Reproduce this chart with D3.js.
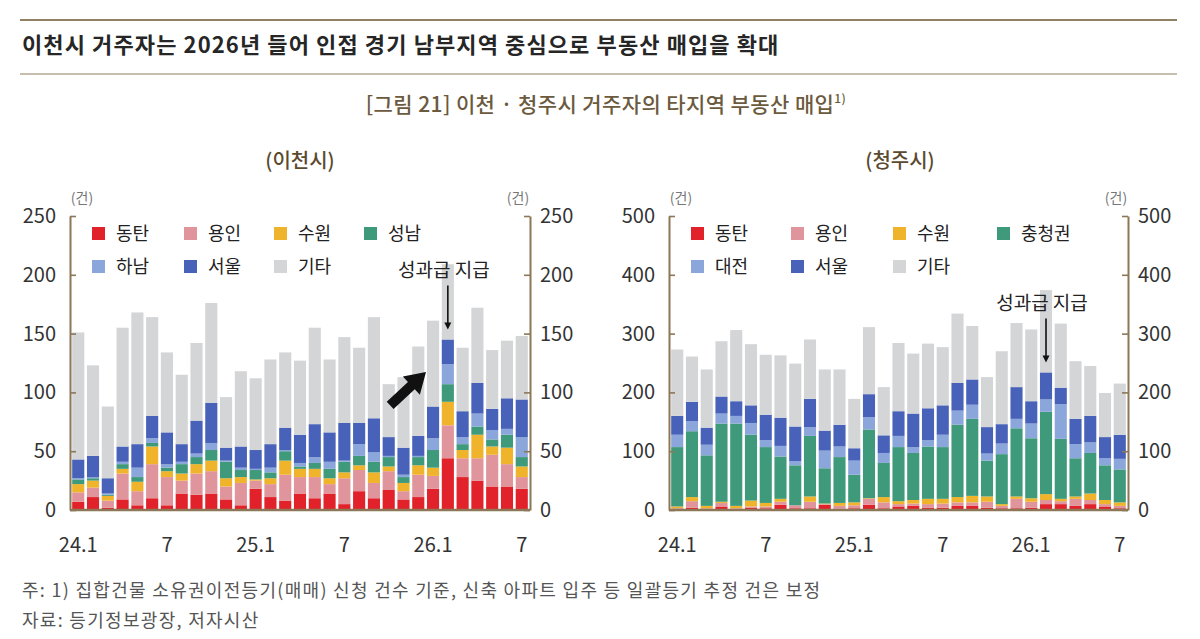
<!DOCTYPE html>
<html>
<head>
<meta charset="utf-8">
<script src="https://cdn.jsdelivr.net/npm/d3@7"></script>
<style>
  body { margin: 0; background: #fff; }
  text { font-family: "Noto Sans CJK KR", "Noto Sans", sans-serif; }
</style>
</head>
<body>
<svg id="chart" width="1200" height="639"></svg>
<script>
// months 2024.1 ~ 2026.7
var months = ["24.1","24.2","24.3","24.4","24.5","24.6","24.7","24.8","24.9","24.10","24.11","24.12",
              "25.1","25.2","25.3","25.4","25.5","25.6","25.7","25.8","25.9","25.10","25.11","25.12",
              "26.1","26.2","26.3","26.4","26.5","26.6","26.7"];
var monthTicks = ["24.1","24.7","25.1","25.7","26.1","26.7"];

// 이천시 거주자 (건)
var icheonKeys = ["동탄","용인","수원","성남","하남","서울","기타"];
var icheonDongtan = [7,11,2,9,4,10,4,14,13,14,9,4,18,11,8,14,10,14,5,16,10,17,9,11,18,44,28,25,20,20,18];
var icheonYongin  = [8,8,6,22,12,29,24,11,18,19,11,19,7,11,22,14,18,8,22,18,13,16,7,19,11,28,16,19,27,19,10];
var icheonSuwon   = [7,6,4,4,8,15,5,6,8,9,7,5,1,5,12,7,7,5,5,4,9,4,7,8,7,20,7,20,7,14,9];
var icheonSeongnam= [4,2,1,4,4,3,3,8,6,9,14,6,8,5,8,2,5,8,9,8,9,8,5,7,15,15,5,7,6,11,8];
var icheonHanam   = [1,1,1,2,8,4,3,2,3,6,1,2,1,4,1,3,5,6,1,10,8,1,2,1,10,17,6,11,8,5,17];
var icheonSeoul   = [16,18,13,13,20,19,27,15,28,34,11,18,16,20,19,24,28,25,32,18,29,16,23,17,27,21,22,26,18,26,32];
var icheonEtc     = [108,77,61,101,112,84,68,59,66,85,43,64,61,72,64,63,82,62,73,64,86,45,60,76,73,64,54,64,50,49,54];
var icheonTicks = [0,50,100,150,200,250];

// 청주시 거주자 (건)
var cheongjuKeys = ["동탄","용인","수원","충청권","대전","서울","기타"];
var cheongjuDongtan = [1,4,1,6,2,4,3,9,3,3,9,2,3,9,3,6,7,4,4,7,7,4,3,3,4,10,10,7,10,6,3];
var cheongjuYongin  = [2,11,2,6,1,2,3,5,5,11,1,5,5,10,10,4,4,6,7,6,6,10,4,16,10,7,5,12,7,4,4];
var cheongjuSuwon   = [3,7,4,2,4,10,6,5,0,9,1,5,5,1,9,5,6,9,8,9,11,9,3,4,6,10,4,4,11,7,6];
var cheongjuChung   = [101,112,86,133,140,112,95,72,68,103,60,78,47,117,58,92,80,89,88,123,131,61,85,116,102,140,102,65,69,59,56];
var cheongjuDaejeon = [21,17,18,17,13,20,12,18,7,15,30,18,24,21,17,19,10,11,21,24,24,12,18,16,25,21,59,24,18,12,18];
var cheongjuSeoul   = [32,33,29,29,25,30,43,48,59,48,34,37,21,39,30,42,57,54,50,47,43,45,33,54,38,46,28,43,45,36,41];
var cheongjuEtc     = [113,77,99,94,121,104,102,106,107,101,104,94,84,114,82,116,102,110,99,118,91,85,124,109,122,140,109,98,85,75,87];
var cheongjuTicks = [0,100,200,300,400,500];

var colors = ["#e2222b","#e0959c","#efb42b","#3f9a7b","#8ba6da","#4862b9","#d4d5d7"];
var brown = "#8c7757";
var BASE = 510, TOP = 216;

var svg = d3.select("#chart");

// header
svg.append("line").attr("x1", 20).attr("x2", 1177).attr("y1", 20).attr("y2", 20)
  .attr("stroke", "#8f7f63").attr("stroke-width", 2);
svg.append("text").attr("x", 22).attr("y", 53)
  .attr("font-size", 22).attr("font-weight", 700).attr("fill", "#262626")
  .attr("letter-spacing", 1.1)
  .text("이천시 거주자는 2026년 들어 인접 경기 남부지역 중심으로 부동산 매입을 확대");
svg.append("line").attr("x1", 20).attr("x2", 1177).attr("y1", 74).attr("y2", 74)
  .attr("stroke", "#8f7f63").attr("stroke-width", 1.2);
var ft = svg.append("text").attr("x", 606).attr("y", 112).attr("text-anchor", "middle")
  .attr("font-size", 21).attr("font-weight", 500).attr("fill", "#6b5a3e").attr("letter-spacing", 0.4);
ft.append("tspan").text("[그림 21] 이천 · 청주시 거주자의 타지역 부동산 매입");
ft.append("tspan").attr("font-size", 12).attr("dy", -9).text("1)");

// footnotes
svg.append("text").attr("x", 22).attr("y", 597).attr("font-size", 18).attr("fill", "#555")
  .attr("letter-spacing", 1.3)
  .text("주: 1) 집합건물 소유권이전등기(매매) 신청 건수 기준, 신축 아파트 입주 등 일괄등기 추정 건은 보정");
svg.append("text").attr("x", 22).attr("y", 627).attr("font-size", 18).attr("fill", "#555")
  .attr("letter-spacing", 1.3)
  .text("자료: 등기정보광장, 저자시산");

function drawPanel(cfg) {
  var g = svg.append("g");

  var x = d3.scaleBand().domain(months).range([cfg.left + 1, cfg.right - 1])
    .paddingInner(0.18).paddingOuter(0.08);
  var y = d3.scaleLinear().domain([0, cfg.max]).range([BASE, TOP]);

  var rows = months.map(function(m, i) {
    var o = { month: m };
    cfg.keys.forEach(function(k, j) { o[k] = cfg.values[j][i]; });
    return o;
  });
  var layers = d3.stack().keys(cfg.keys)(rows);

  // subtitle + units
  g.append("text").attr("x", cfg.center).attr("y", 168).attr("text-anchor", "middle")
    .attr("font-size", 20).attr("font-weight", 500).attr("fill", "#5b4a30").text(cfg.title);
  g.append("text").attr("x", cfg.left + 12).attr("y", 203).attr("text-anchor", "middle")
    .attr("font-size", 14).attr("fill", "#777").text("(건)");
  g.append("text").attr("x", cfg.right - 12).attr("y", 203).attr("text-anchor", "middle")
    .attr("font-size", 14).attr("fill", "#777").text("(건)");

  // bars
  g.selectAll("g.layer").data(layers).enter().append("g")
    .attr("class", "layer")
    .attr("fill", function(d, i) { return colors[i]; })
    .selectAll("rect").data(function(d) { return d; }).enter().append("rect")
    .attr("x", function(d) { return x(d.data.month); })
    .attr("width", x.bandwidth())
    .attr("y", function(d) { return y(d[1]); })
    .attr("height", function(d) { return y(d[0]) - y(d[1]); });

  // y axes
  var yl = g.append("g").attr("transform", "translate(" + cfg.left + ",0)")
    .call(d3.axisLeft(y).tickValues(cfg.ticks).tickSizeInner(-6).tickSizeOuter(0).tickPadding(14));
  var yr = g.append("g").attr("transform", "translate(" + cfg.right + ",0)")
    .call(d3.axisRight(y).tickValues(cfg.ticks).tickSizeInner(-6).tickSizeOuter(0).tickPadding(10));
  [yl, yr].forEach(function(a) {
    a.select(".domain").attr("stroke", brown).attr("stroke-width", 2);
    a.selectAll(".tick line").attr("stroke", brown).attr("stroke-width", 1.6);
    a.selectAll(".tick text").attr("font-size", 20).attr("fill", "#333")
      .style("font-family", "'Noto Sans CJK KR', sans-serif");
  });

  // baseline
  g.append("line").attr("x1", cfg.left).attr("x2", cfg.right).attr("y1", BASE).attr("y2", BASE)
    .attr("stroke", brown).attr("stroke-width", 2.5);

  // x axis labels
  var xa = g.append("g").attr("transform", "translate(0," + BASE + ")")
    .call(d3.axisBottom(x).tickValues(monthTicks).tickSize(0).tickPadding(28)
      .tickFormat(function(d) { return d.slice(-2) === ".7" ? "7" : d; }));
  xa.select(".domain").remove();
  xa.selectAll(".tick text").attr("font-size", 20).attr("fill", "#333")
    .style("font-family", "'Noto Sans CJK KR', sans-serif");

  // legend
  var leg = g.selectAll("g.leg").data(cfg.keys).enter().append("g")
    .attr("class", "leg")
    .attr("transform", function(d, i) {
      return "translate(" + cfg.legX[i % 4] + "," + (i < 4 ? 227 : 260) + ")";
    });
  leg.append("rect").attr("width", 13).attr("height", 13)
    .attr("fill", function(d, i) { return colors[i]; });
  leg.append("text").attr("x", 24).attr("y", 13).attr("font-size", 18).attr("fill", "#222")
    .text(function(d) { return d; });

  // 성과급 지급 annotation on 26.2
  var m = months[25];
  var top = rows[25];
  var colored = 0;
  cfg.keys.slice(0, 6).forEach(function(k) { colored += top[k]; });
  var ax = x(m) + x.bandwidth() / 2;
  var aEnd = y(colored) - 10;
  var aStart = aEnd - 44;
  g.append("line").attr("x1", ax).attr("x2", ax).attr("y1", aStart).attr("y2", aEnd - 6)
    .attr("stroke", "#111").attr("stroke-width", 1.6);
  g.append("path").attr("d", "M" + (ax - 3.5) + "," + (aEnd - 7) + "L" + (ax + 3.5) + "," + (aEnd - 7) + "L" + ax + "," + aEnd + "Z")
    .attr("fill", "#111");
  g.append("text").attr("x", ax - 4).attr("y", aStart - 8).attr("text-anchor", "middle")
    .attr("font-size", 19).attr("fill", "#222").text("성과급 지급");

  if (cfg.bigArrow) {
    // thick arrow pointing at 26.1 bar
    var tipX = x(months[24]) - 1, tipY = 372;
    var L = 49, hl = 20, sw = 5, hw = 12.5;
    var ang = -43;
    g.append("path")
      .attr("d", "M" + (-L) + "," + (-sw) + "L" + (-hl) + "," + (-sw) + "L" + (-hl) + "," + (-hw) +
                 "L0,0L" + (-hl) + "," + hw + "L" + (-hl) + "," + sw + "L" + (-L) + "," + sw + "Z")
      .attr("transform", "translate(" + tipX + "," + tipY + ") rotate(" + ang + ")")
      .attr("fill", "#111");
  }
}

drawPanel({
  title: "(이천시)", center: 300, left: 70, right: 530, max: 250, ticks: icheonTicks,
  keys: icheonKeys,
  values: [icheonDongtan, icheonYongin, icheonSuwon, icheonSeongnam, icheonHanam, icheonSeoul, icheonEtc],
  legX: [92, 184, 274, 364], bigArrow: true
});
drawPanel({
  title: "(청주시)", center: 900, left: 669, right: 1128, max: 500, ticks: cheongjuTicks,
  keys: cheongjuKeys,
  values: [cheongjuDongtan, cheongjuYongin, cheongjuSuwon, cheongjuChung, cheongjuDaejeon, cheongjuSeoul, cheongjuEtc],
  legX: [691, 791, 893, 997], bigArrow: false
});
</script>
</body>
</html>
